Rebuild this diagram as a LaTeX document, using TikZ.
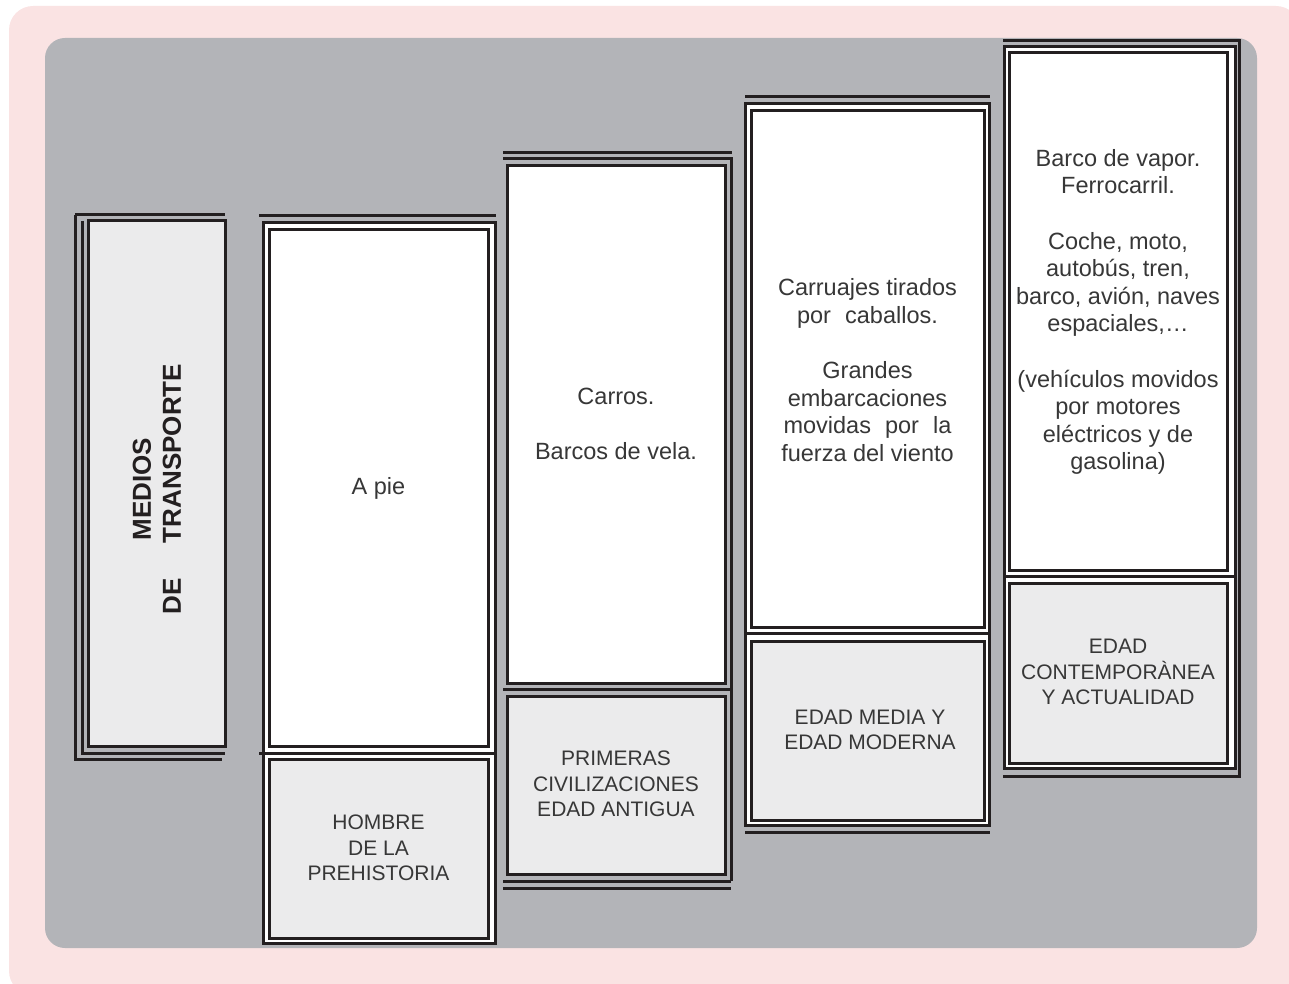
\documentclass[tikz,border=0pt]{standalone}
\usepackage{fontspec}
\setmainfont{Liberation Sans}
\definecolor{pinkbg}{RGB}{250,227,227}
\definecolor{graybg}{RGB}{179,180,184}
\definecolor{boxfill}{RGB}{235,235,236}
\definecolor{ink}{RGB}{35,31,32}
\definecolor{txt}{RGB}{55,55,55}
\begin{document}
\begin{tikzpicture}[x=1pt,y=-1pt,
  ln/.style={draw=ink,line width=3pt},
  outerbox/.style={draw=ink,line width=3pt,fill=white},
  topbox/.style={draw=ink,line width=3pt,fill=white},
  botbox/.style={draw=ink,line width=3pt,fill=boxfill},
  body/.style={text=txt,align=center,font=\fontsize{23.5}{27.6}\selectfont,inner sep=0pt},
  era/.style={text=txt,align=center,font=\fontsize{21}{25.5}\selectfont,inner sep=0pt}]
\useasboundingbox (0,0) rectangle (1289,984);
\fill[pinkbg,rounded corners=24pt] (9,6) rectangle (1300,995);
\fill[graybg,rounded corners=20pt] (45,38) rectangle (1257,948);

% column 0
\filldraw[ln,fill=boxfill] (88,221) rectangle (225,746);
\draw[ln] (75,215) -- (225,215);
\draw[ln] (75,215) -- (75,759) -- (222,759);
\draw[ln] (82,221) -- (82,753) -- (225,753);
\node[rotate=90,text=ink,align=center,inner sep=0pt,font=\bfseries\fontsize{26}{30}\selectfont] (title) at (157,489) {MEDIOS\\DE\hspace{35pt}TRANSPORTE};

% column 1
\draw[ln] (259,216) -- (496,216);
\filldraw[outerbox] (263,223) rectangle (495,943);
\draw[ln] (259,753) -- (495,753);
\filldraw[topbox] (269,230) rectangle (488,746);
\filldraw[botbox] (269,759) rectangle (488,938);
\node[body] (t1) at (378.5,488) {A pie};
\node[era] (e1) at (378.5,848) {HOMBRE\\DE LA\\PREHISTORIA};

% column 2
\draw[ln] (503,153) -- (732,153);
\draw[ln] (503,159) -- (731,159) -- (731,881);
\draw[ln] (503,689) -- (731,689);
\draw[ln] (503,881) -- (731,881);
\draw[ln] (503,888) -- (731,888);
\filldraw[topbox] (507,166) rectangle (725,683);
\filldraw[botbox] (507,696) rectangle (725,874);
\node[body] (t2) at (616,424) {Carros.\\[27.6pt]Barcos de vela.};
\node[era] (e2) at (616,784) {PRIMERAS\\CIVILIZACIONES\\EDAD ANTIGUA};

% column 3
\draw[ln] (745,97) -- (990,97);
\filldraw[outerbox] (745,104) rectangle (989,825);
\draw[ln] (745,633) -- (989,633);
\draw[ln] (745,832) -- (990,832);
\filldraw[topbox] (751,111) rectangle (984,627);
\filldraw[botbox] (751,641) rectangle (984,820);
\node[body] (t3) at (867.5,370) {Carruajes tirados\\por\hspace{0.6em}caballos.\\[27.6pt]Grandes\\embarcaciones\\movidas\hspace{0.6em}por\hspace{0.6em}la\\fuerza del viento};
\node[era] (e3) at (870,730) {EDAD MEDIA Y\\EDAD MODERNA};

% column 4
\draw[ln] (1003,41) -- (1239,41) -- (1239,776) -- (1003,776);
\filldraw[outerbox] (1004,47) rectangle (1235,768);
\draw[ln] (1004,576) -- (1235,576);
\filldraw[topbox] (1009,53) rectangle (1227,570);
\filldraw[botbox] (1009,583) rectangle (1227,763);
\node[body] (t4) at (1118,312) {Barco de vapor.\\Ferrocarril.\\[27.6pt]Coche, moto,\\autobús, tren,\\barco, avión, naves\\espaciales,…\\[27.6pt](vehículos movidos\\por motores\\eléctricos y de\\gasolina)};
\node[era] (e4) at (1118,672) {EDAD\\CONTEMPORÀNEA\\Y ACTUALIDAD};
\end{tikzpicture}
\end{document}
